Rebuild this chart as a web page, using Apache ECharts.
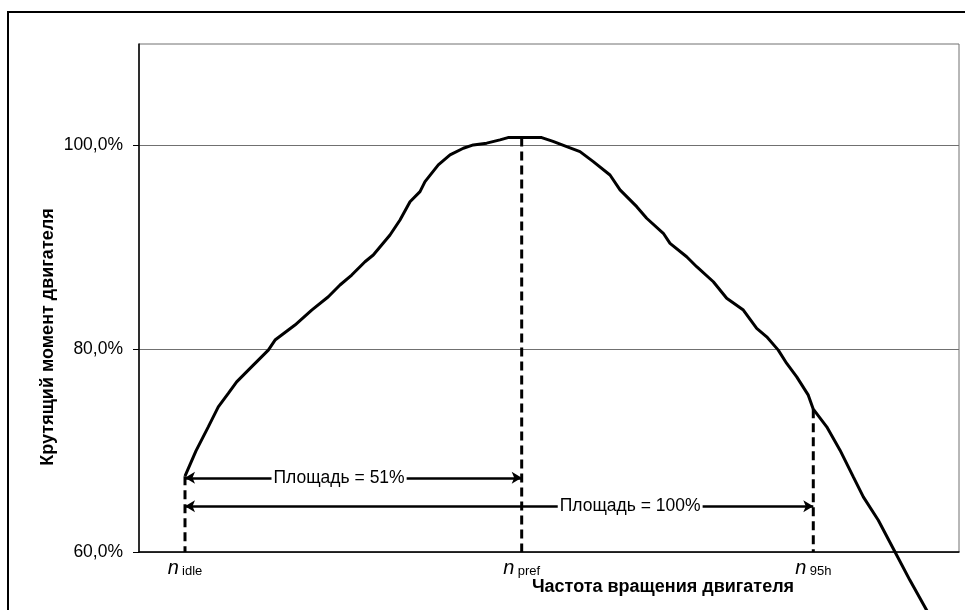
<!DOCTYPE html>
<html>
<head>
<meta charset="utf-8">
<script src="https://cdn.jsdelivr.net/npm/echarts@6/dist/echarts.min.js"></script>
<style>html,body{margin:0;padding:0;background:#fff}#c{width:965px;height:610px}</style>
</head>
<body>
<div id="c"></div>
<script>
const torqueX = [5.61, 6.95, 8.45, 9.67, 10.89, 11.91, 13.33, 15.77, 16.59, 19.02, 21.06, 23.09, 24.51, 25.94, 27.56, 28.57, 30.61, 31.83, 33.05, 34.27, 34.88, 36.50, 37.93, 39.55, 40.77, 42.40, 44.02, 45.00, 46.67, 49.11, 50.49, 52.16, 53.78, 55.40, 57.44, 58.66, 60.70, 61.91, 63.94, 64.76, 66.79, 68.01, 70.04, 71.67, 73.70, 75.33, 76.55, 77.96, 78.99, 80.21, 81.62, 82.23, 83.87, 85.49, 87.11, 88.33, 90.16, 92.20, 94.02, 96.06, 97.07];
const torqueY = [67.46, 69.95, 72.32, 74.29, 75.61, 76.75, 77.90, 79.87, 80.86, 82.34, 83.81, 85.12, 86.28, 87.26, 88.57, 89.23, 91.20, 92.68, 94.48, 95.47, 96.45, 98.10, 99.08, 99.74, 100.07, 100.24, 100.56, 100.79, 100.79, 100.79, 100.41, 99.90, 99.41, 98.42, 97.11, 95.64, 93.99, 92.85, 91.37, 90.38, 89.06, 88.08, 86.60, 84.97, 83.81, 82.01, 81.18, 79.87, 78.56, 77.24, 75.44, 74.06, 72.32, 70.02, 67.39, 65.42, 63.12, 60.00, 57.21, 54.26, 52.78];
const markerNames = ['idle', 'pref', '95h'];
const markerX = [5.61, 46.67, 82.23];
const markerTop = [67.46, 100.79, 74.06];
const yTicks = [60, 80, 100];
const areaLabels = ['Площадь = 51%', 'Площадь = 100%'];
const areaY = [67.3, 64.5];
const areaFrom = [5.61, 5.61];
const areaTo = [46.67, 82.23];
const areaLabelX = [24.4, 59.9];
const xTitle = 'Частота вращения двигателя';
const yTitle = 'Крутящий момент двигателя';

const FONT = '"Liberation Sans", Arial, sans-serif';
const chart = echarts.init(document.getElementById('c'), null, {renderer: 'canvas'});

const series = [];
series.push({
  type: 'line', data: torqueX.map((x, i) => [x, torqueY[i]]),
  showSymbol: false, symbol: 'none', clip: false, smooth: false,
  lineStyle: {color: '#000', width: 3}, z: 5, silent: true
});
markerX.forEach((x, i) => {
  series.push({
    type: 'line', data: [[x, markerTop[i]], [x, 60]], symbol: 'none',
    lineStyle: {color: '#000', width: 3, type: [9, 5]}, z: 4, silent: true
  });
});
series.push({
  type: 'line', data: [], silent: true,
  markLine: {
    silent: true, animation: false,
    symbol: ['arrow', 'arrow'], symbolSize: [9, 10],
    lineStyle: {color: '#000', width: 2.5, type: 'solid'},
    label: {show: false},
    data: areaY.map((y, i) => [{coord: [areaFrom[i], y]}, {coord: [areaTo[i], y]}])
  }
});
series.push({
  type: 'scatter', symbolSize: 0, silent: true, z: 10,
  itemStyle: {opacity: 1},
  data: areaY.map((y, i) => ({value: [areaLabelX[i], y], name: areaLabels[i]})),
  label: {
    show: true, position: 'inside', formatter: p => p.name, opacity: 1,
    fontFamily: FONT, fontSize: 17.5, color: '#000',
    backgroundColor: '#fff', padding: [1, 2]
  }
});

chart.setOption({
  animation: false,
  backgroundColor: '#fff',
  grid: {left: 139, right: 6, top: 44, bottom: 58, show: true, borderColor: '#707070', borderWidth: 1},
  xAxis: {
    type: 'value', min: 0, max: 100,
    splitLine: {show: false},
    axisLine: {show: true, onZero: false, lineStyle: {color: '#000', width: 1.5}},
    axisTick: {show: false},
    axisLabel: {
      customValues: markerX, margin: 4,
      formatter: v => '{n|n} {s|' + markerNames[markerX.indexOf(v)] + '}',
      rich: {
        n: {fontFamily: FONT, fontSize: 20, fontStyle: 'italic', color: '#000', verticalAlign: 'bottom', lineHeight: 22},
        s: {fontFamily: FONT, fontSize: 13, color: '#000', verticalAlign: 'bottom', lineHeight: 14}
      }
    }
  },
  yAxis: {
    type: 'value', min: 60, max: 110, interval: 20,
    axisLine: {show: true, lineStyle: {color: '#000', width: 1.5}},
    axisTick: {show: true, customValues: yTicks, length: 6, lineStyle: {color: '#000', width: 1}},
    splitLine: {show: true, lineStyle: {color: '#707070', width: 1}},
    axisLabel: {
      customValues: yTicks, margin: 16, fontFamily: FONT, fontSize: 17.5, color: '#000',
      formatter: v => v.toFixed(1).replace('.', ',') + '%'
    }
  },
  graphic: [
    {type: 'rect', shape: {x: 8, y: 12, width: 1000, height: 1000}, style: {fill: 'none', stroke: '#000', lineWidth: 2}, silent: true, z: 100},
    {type: 'text', x: 663, y: 587, style: {text: xTitle, font: 'bold 18px ' + FONT, fill: '#000', align: 'center', verticalAlign: 'middle'}, z: 100},
    {type: 'text', x: 48, y: 337, rotation: Math.PI / 2, style: {text: yTitle, font: 'bold 18px ' + FONT, fill: '#000', align: 'center', verticalAlign: 'middle'}, z: 100}
  ],
  series: series
});
</script>
</body>
</html>
